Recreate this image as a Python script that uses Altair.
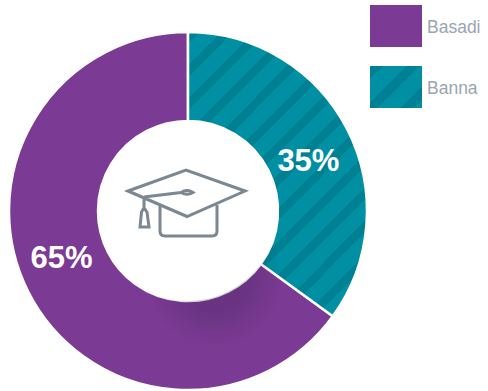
import altair as alt
import pandas as pd

# Enrolment split shown on the ring
categories = ["Banna", "Basadi"]
shares = [35, 65]
labels = ["35%", "65%"]
sequence = [0, 1]

TEAL = "#008fa3"
TEAL_DARK = "#008093"
PURPLE = "#7b3a94"
TEXT_GREY = "#9aa5ad"
ICON_GREY = "#7b8791"
CX, CY = 188, 211
R_IN, R_OUT = 90, 179


def stripes(x2, y2, period, dark=0.36):
    """Hard-edged linear gradient that reads as diagonal bands."""
    stops, t = [], 0.0
    while t < 1:
        a, b, c = t, min(t + period * dark, 1), min(t + period, 1)
        stops += [
            alt.GradientStop(color=TEAL_DARK, offset=a),
            alt.GradientStop(color=TEAL_DARK, offset=b),
            alt.GradientStop(color=TEAL, offset=b),
            alt.GradientStop(color=TEAL, offset=c),
        ]
        t += period
    return alt.LinearGradient(gradient="linear", x1=0, y1=0, x2=x2, y2=y2, stops=stops)


df = pd.DataFrame({"category": categories, "share": shares, "label": labels, "seq": sequence})
base = alt.Chart(df).transform_stack(
    stack="share", groupby=[], sort=[alt.SortField("seq", order="ascending")], as_=["s0", "s1"]
).transform_calculate(mid="(datum.s0 + datum.s1) / 2")

theta_scale = alt.Scale(domain=[0, 100], range=[0, 6.283185307])
centre = dict(x=alt.value(CX), y=alt.value(CY))


def wedge(name, fill):
    return base.transform_filter(alt.datum.category == name).mark_arc(
        innerRadius=R_IN, outerRadius=R_OUT, fill=fill, stroke="white", strokeWidth=2.5
    ).encode(theta=alt.Theta("s0:Q", scale=theta_scale), theta2="s1:Q", **centre)


purple_wedge = wedge("Basadi", PURPLE)
teal_wedge = wedge("Banna", stripes(1, 1.58, 0.053))

# Soft shadow cast under the hole
shadow = alt.Chart(df.head(1)).mark_arc(
    innerRadius=R_IN, outerRadius=R_OUT, theta=0, theta2=6.283185307,
    fill=alt.RadialGradient(
        gradient="radial", x1=0.575, y1=0.69, x2=0.575, y2=0.69, r1=0, r2=0.19,
        stops=[
            alt.GradientStop(color="rgba(20,20,40,0.2)", offset=0),
            alt.GradientStop(color="rgba(20,20,40,0.16)", offset=0.5),
            alt.GradientStop(color="rgba(20,20,40,0)", offset=1),
        ],
    ),
).encode(**centre)


def pct(name, dx, dy):
    return base.transform_filter(alt.datum.category == name).mark_text(
        radius=134, dx=dx, dy=dy, font="Liberation Sans", fontSize=31,
        fontWeight="bold", color="white", align="center", baseline="middle",
    ).encode(theta=alt.Theta("mid:Q", scale=theta_scale), text="label:N", **centre)


# Graduation cap, drawn in units of the symbol radius
U = 40.0


def p(x, y):
    return f"{x / U:.4f},{y / U:.4f}"


cap_path = " ".join([
    "M", p(-59, -13), "L", p(-1, -34), "L", p(58, -13), "L", p(0, 12.5), "Z",
    "M", p(-27, 1), "L", p(-27, 27), "Q", p(-27, 32), p(-22, 32),
    "L", p(25, 32), "Q", p(30, 32), p(30, 27), "L", p(30, 1),
    "M", p(-43, -7), "L", p(-6, -11.5),
    "M", p(-6, -11.5), "Q", p(0, -15.5), p(6, -11.5), "Q", p(0, -8), p(-6, -11.5), "Z",
    "M", p(-43, -7), "L", p(-43, 4),
    "M", p(-43, 4), "L", p(-40, 8), "L", p(-38, 23), "L", p(-47, 23), "L", p(-45.5, 8), "Z",
])
icon = alt.Chart(df.head(1)).mark_point(
    shape=cap_path, size=(2 * U) ** 2, filled=False, stroke=ICON_GREY, strokeWidth=3, opacity=1,
).encode(x=alt.value(187), y=alt.value(204))


def key(name, top, fill):
    src = alt.Chart(df).transform_filter(alt.datum.category == name)
    swatch = src.mark_rect(fill=fill).encode(
        x=alt.value(370), x2=alt.value(422), y=alt.value(top), y2=alt.value(top + 42)
    )
    caption = src.mark_text(
        font="Liberation Sans", fontSize=17.5, color=TEXT_GREY, align="left", baseline="middle",
    ).encode(x=alt.value(427), y=alt.value(top + 23), text="category:N")
    return swatch + caption


chart = alt.layer(
    purple_wedge, teal_wedge, shadow, pct("Banna", 1, 12), pct("Basadi", -7, -13), icon,
    key("Basadi", 5, PURPLE), key("Banna", 66, stripes(1, 0.81, 0.42)),
).properties(
    width=488, height=391, padding=0, background="white",
    autosize=alt.AutoSizeParams(type="none"),
).configure_view(stroke=None)

chart.save("out.html", embed_options={"renderer": "svg", "actions": False})
